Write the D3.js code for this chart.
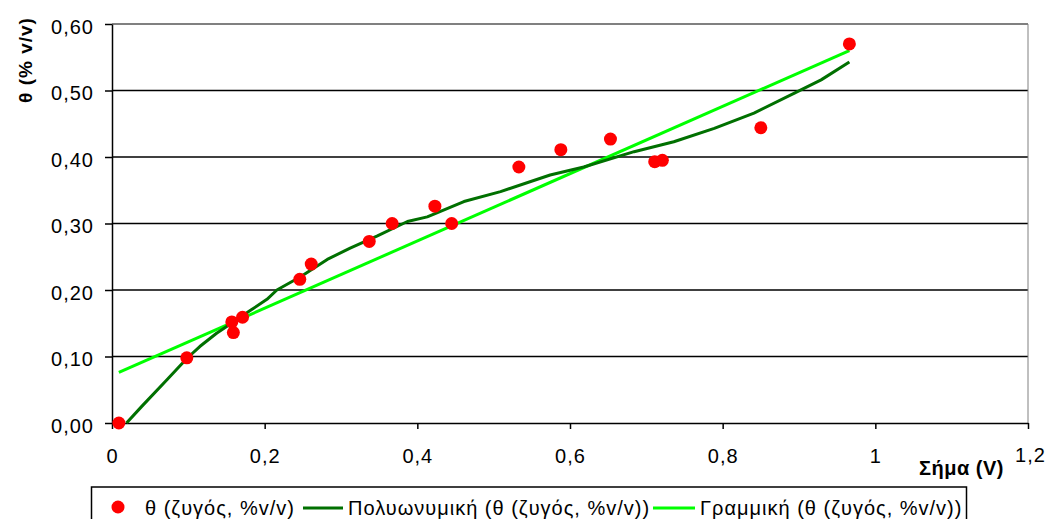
<!DOCTYPE html>
<html>
<head>
<meta charset="utf-8">
<script src="https://cdn.jsdelivr.net/npm/d3@7"></script>
<style>
  html, body { margin: 0; padding: 0; background: #fff; }
  svg { display: block; }
  text { font-family: "Liberation Sans", Arial, sans-serif; fill: #000; }
</style>
</head>
<body>
<svg id="chart" width="1045" height="519"></svg>
<script>
// Measured data: signal (V) vs θ (balance, % v/v)
const signalV = [0.009, 0.098, 0.157, 0.159, 0.171, 0.246, 0.261, 0.337, 0.367, 0.423, 0.445, 0.533, 0.588, 0.653, 0.711, 0.721, 0.850, 0.966];
const thetaVV = [0.000, 0.098, 0.152, 0.136, 0.159, 0.216, 0.239, 0.273, 0.300, 0.326, 0.300, 0.385, 0.411, 0.427, 0.393, 0.395, 0.444, 0.570];

// Polynomial trendline
const polyX = [0.019, 0.039, 0.072, 0.098, 0.115, 0.137, 0.159, 0.181, 0.203, 0.216, 0.247, 0.282, 0.312, 0.347, 0.387, 0.413, 0.461, 0.509, 0.574, 0.618, 0.684, 0.736, 0.789, 0.841, 0.894, 0.929, 0.966];
const polyY = [0.000, 0.025, 0.065, 0.097, 0.115, 0.135, 0.152, 0.169, 0.186, 0.200, 0.220, 0.246, 0.263, 0.281, 0.303, 0.310, 0.333, 0.348, 0.373, 0.385, 0.408, 0.423, 0.443, 0.466, 0.496, 0.516, 0.543];

// Linear trendline end points
const linX = [0.009, 0.966];
const linY = [0.076, 0.560];

const xTicks = [0, 0.2, 0.4, 0.6, 0.8, 1, 1.2];
const yTicks = [0, 0.1, 0.2, 0.3, 0.4, 0.5, 0.6];

const legendLabels = ["θ (ζυγός, %v/v)", "Πολυωνυμική (θ (ζυγός, %v/v))", "Γραμμική (θ (ζυγός, %v/v))"];
const xTitle = "Σήμα (V)";
const yTitle = "θ (% v/v)";

const svg = d3.select("#chart");
const L = 112, R = 1028, T = 24, B = 423;

const x = d3.scaleLinear().domain([0, 1.2]).range([L, R]);
const y = d3.scaleLinear().domain([0, 0.6]).range([B, T]);

const fmtX = v => v === 0 ? "0" : (v === 1 ? "1" : d3.format(".1f")(v).replace(".", ","));
const fmtY = v => d3.format(".2f")(v).replace(".", ",");

// gridlines
svg.append("g").selectAll("line").data(yTicks.filter(v => v > 0 && v < 0.6)).join("line")
  .attr("x1", L).attr("x2", R)
  .attr("y1", d => y(d)).attr("y2", d => y(d))
  .attr("stroke", "#000").attr("stroke-width", 1.5);

// plot area top/right border (gray)
svg.append("line").attr("x1", L).attr("x2", R).attr("y1", T).attr("y2", T)
  .attr("stroke", "#808080").attr("stroke-width", 2);
svg.append("line").attr("x1", R).attr("x2", R).attr("y1", T).attr("y2", B)
  .attr("stroke", "#808080").attr("stroke-width", 1);

// axes
const xAxis = d3.axisBottom(x).tickValues(xTicks).tickFormat(fmtX).tickSize(6).tickSizeOuter(0).tickPadding(20);
const gx = svg.append("g").attr("transform", `translate(0,${B})`).call(xAxis);
gx.select(".domain").attr("stroke", "#000").attr("stroke-width", 1.5);
gx.selectAll(".tick line").attr("stroke", "#000").attr("stroke-width", 1.5);
gx.selectAll(".tick text").attr("font-size", 20).attr("letter-spacing", 1)
  .attr("font-family", "Liberation Sans, Arial, sans-serif").attr("fill", "#000");
gx.selectAll(".tick").filter(d => d === 1.2).select("text").attr("dx", 2).attr("dy", "0.66em");

const yAxis = d3.axisLeft(y).tickValues(yTicks).tickFormat(fmtY).tickSize(7).tickSizeOuter(0).tickPadding(11);
const gy = svg.append("g").attr("transform", `translate(${L},0)`).call(yAxis);
gy.select(".domain").attr("stroke", "#000").attr("stroke-width", 1.5);
gy.selectAll(".tick line").attr("stroke", "#000").attr("stroke-width", 1.5);
gy.selectAll(".tick text").attr("font-size", 20).attr("letter-spacing", 1).attr("dy", "0.45em")
  .attr("font-family", "Liberation Sans, Arial, sans-serif").attr("fill", "#000");

// axis titles
svg.append("text").attr("x", 1004).attr("y", 475).attr("text-anchor", "end")
  .attr("font-size", 20).attr("font-weight", "bold").attr("letter-spacing", 0.5).text(xTitle);
svg.append("text").attr("transform", "translate(32,60) rotate(-90)").attr("text-anchor", "middle")
  .attr("font-size", 19).attr("font-weight", "bold").attr("letter-spacing", 1).text(yTitle);

// trendlines
const line = d3.line().x(d => x(d[0])).y(d => y(d[1]));
svg.append("path").datum(linX.map((v, i) => [v, linY[i]])).attr("d", line)
  .attr("fill", "none").attr("stroke", "#00ff00").attr("stroke-width", 3);
svg.append("path").datum(polyX.map((v, i) => [v, polyY[i]])).attr("d", line)
  .attr("fill", "none").attr("stroke", "#007000").attr("stroke-width", 3).attr("stroke-linejoin", "round");

// points
svg.append("g").selectAll("circle").data(signalV.map((v, i) => [v, thetaVV[i]])).join("circle")
  .attr("cx", d => x(d[0])).attr("cy", d => y(d[1])).attr("r", 6.5).attr("fill", "#ff0000");

// legend
const lg = svg.append("g");
lg.append("rect").attr("x", 91.5).attr("y", 487).attr("width", 875).attr("height", 40)
  .attr("fill", "#fff").attr("stroke", "#000").attr("stroke-width", 1.5);
const lgText = (xp, s) => lg.append("text").attr("x", xp).attr("y", 515)
  .attr("font-size", 20).attr("letter-spacing", 1).text(s);
lg.append("circle").attr("cx", 118).attr("cy", 507).attr("r", 6.5).attr("fill", "#ff0000");
lgText(145, legendLabels[0]);
lg.append("line").attr("x1", 303).attr("x2", 343).attr("y1", 508).attr("y2", 508).attr("stroke", "#007000").attr("stroke-width", 3);
lgText(348, legendLabels[1]);
lg.append("line").attr("x1", 653).attr("x2", 695).attr("y1", 508).attr("y2", 508).attr("stroke", "#00ff00").attr("stroke-width", 3);
lgText(700, legendLabels[2]);
</script>
</body>
</html>
